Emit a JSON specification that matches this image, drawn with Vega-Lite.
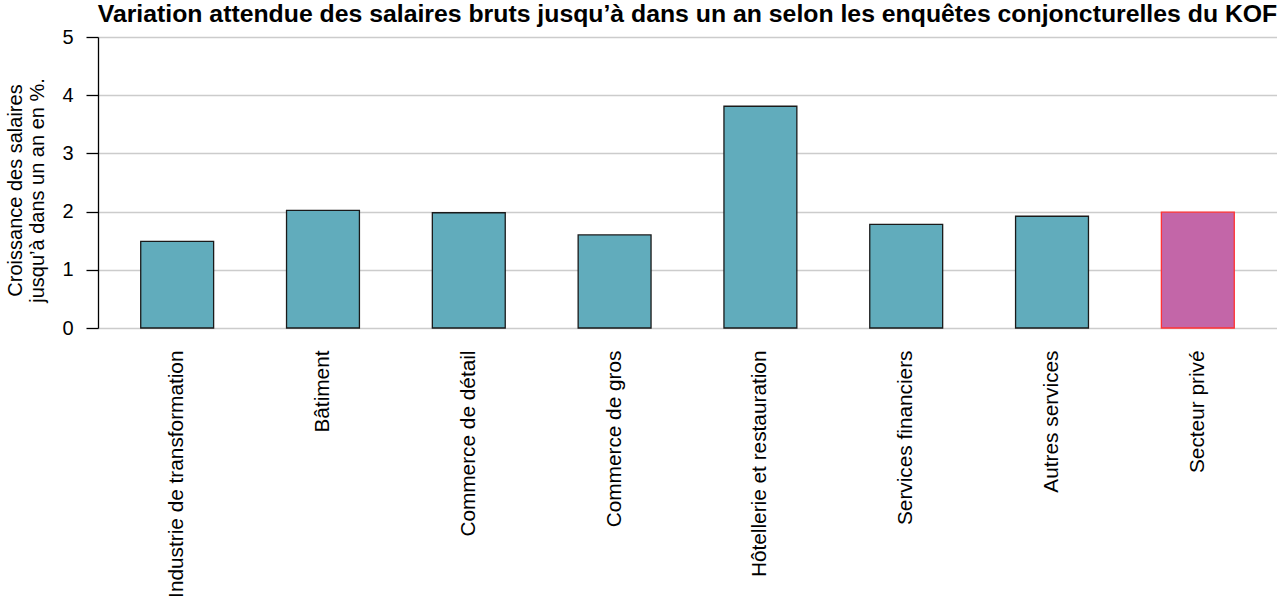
{
  "$schema": "https://vega.github.io/schema/vega-lite/v6.json",
  "width": 1179,
  "height": 291,
  "autosize": {"type": "none"},
  "padding": {"left": 98, "top": 37, "right": 0, "bottom": 272},
  "background": "white",
  "config": {
    "font": "Liberation Sans",
    "view": {"stroke": null}
  },
  "title": {
    "text": "Variation attendue des salaires bruts jusqu’à dans un an selon les enquêtes conjoncturelles du KOF",
    "font": "Liberation Sans",
    "fontSize": 24.8,
    "fontWeight": "bold",
    "color": "black",
    "anchor": "middle",
    "offset": 0
  },
  "data": {
    "values": [
      {"secteur": "Industrie de transformation", "valeur": 1.49, "groupe": "branche"},
      {"secteur": "Bâtiment", "valeur": 2.02, "groupe": "branche"},
      {"secteur": "Commerce de détail", "valeur": 1.98, "groupe": "branche"},
      {"secteur": "Commerce de gros", "valeur": 1.60, "groupe": "branche"},
      {"secteur": "Hôtellerie et restauration", "valeur": 3.81, "groupe": "branche"},
      {"secteur": "Services financiers", "valeur": 1.78, "groupe": "branche"},
      {"secteur": "Autres services", "valeur": 1.92, "groupe": "branche"},
      {"secteur": "Secteur privé", "valeur": 1.99, "groupe": "total"}
    ]
  },
  "mark": {"type": "bar", "strokeWidth": 1.3},
  "encoding": {
    "x": {
      "field": "secteur",
      "type": "nominal",
      "sort": null,
      "scale": {"paddingInner": 0.5, "paddingOuter": 0.293},
      "axis": {
        "title": null,
        "labelAngle": -90,
        "labelFontSize": 20.8,
        "labelColor": "black",
        "labelPadding": 22,
        "ticks": false,
        "domain": false,
        "grid": false,
        "labelLimit": 400
      }
    },
    "y": {
      "field": "valeur",
      "type": "quantitative",
      "scale": {"domain": [0, 5], "nice": false},
      "axis": {
        "title": ["Croissance des salaires", "jusqu’à dans un an en %."],
        "titleFontSize": 20,
        "titleFontWeight": "normal",
        "titleColor": "black",
        "titlePadding": 14,
        "titleLineHeight": 22,
        "titleY": 153,
        "values": [0, 1, 2, 3, 4, 5],
        "labelFontSize": 20,
        "labelColor": "black",
        "labelPadding": 13,
        "tickSize": 12,
        "tickColor": "black",
        "tickWidth": 1.3,
        "domainColor": "black",
        "domainWidth": 1.3,
        "gridColor": "#cccccc",
        "gridWidth": 1.3
      }
    },
    "color": {
      "field": "groupe",
      "type": "nominal",
      "scale": {"domain": ["branche", "total"], "range": ["#61acbc", "#c366a8"]},
      "legend": null
    },
    "stroke": {
      "field": "groupe",
      "type": "nominal",
      "scale": {"domain": ["branche", "total"], "range": ["#1a1a1a", "#ff3333"]},
      "legend": null
    }
  }
}
